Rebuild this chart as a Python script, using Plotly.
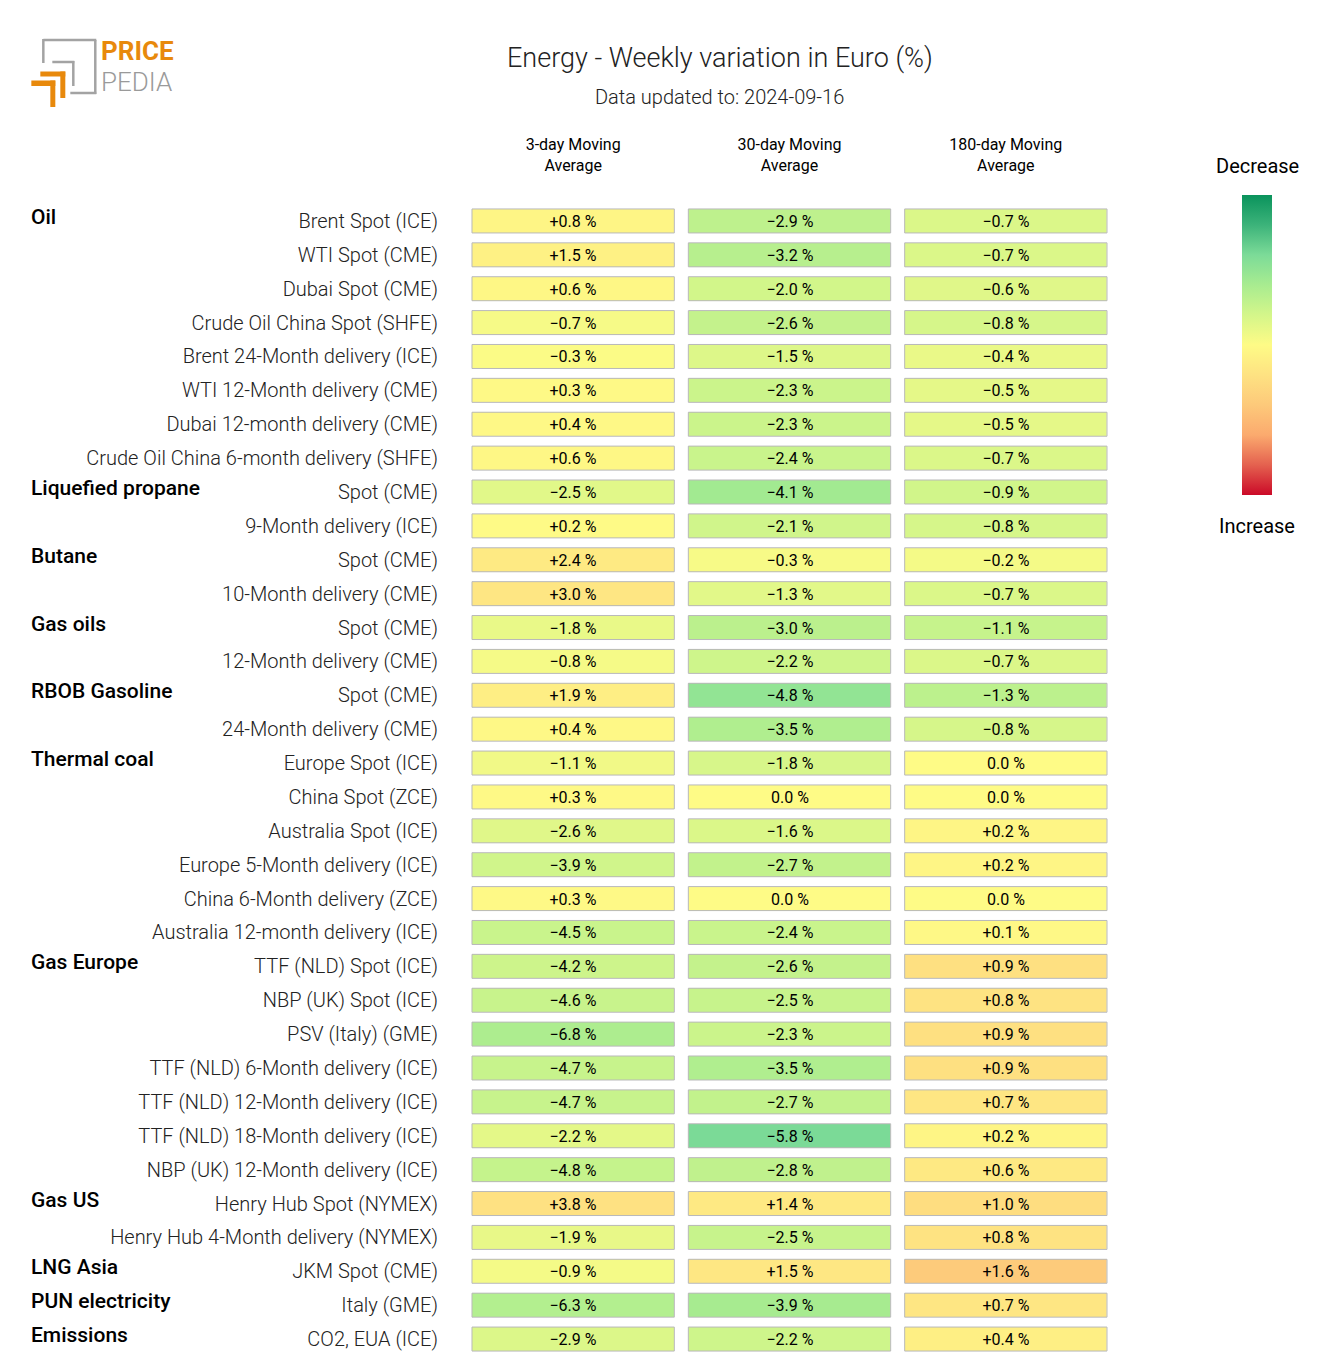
import plotly.graph_objects as go

# ---------------- data ----------------
groups = ["Oil", "Liquefied propane", "Butane", "Gas oils", "RBOB Gasoline",
          "Thermal coal", "Gas Europe", "Gas US", "LNG Asia", "PUN electricity", "Emissions"]
group_sizes = [8, 2, 2, 2, 2, 6, 7, 2, 1, 1, 1]

items = [
    "Brent Spot (ICE)", "WTI Spot (CME)", "Dubai Spot (CME)", "Crude Oil China Spot (SHFE)",
    "Brent 24-Month delivery (ICE)", "WTI 12-Month delivery (CME)", "Dubai 12-month delivery (CME)",
    "Crude Oil China 6-month delivery (SHFE)",
    "Spot (CME)", "9-Month delivery (ICE)",
    "Spot (CME)", "10-Month delivery (CME)",
    "Spot (CME)", "12-Month delivery (CME)",
    "Spot (CME)", "24-Month delivery (CME)",
    "Europe Spot (ICE)", "China Spot (ZCE)", "Australia Spot (ICE)", "Europe 5-Month delivery (ICE)",
    "China 6-Month delivery (ZCE)", "Australia 12-month delivery (ICE)",
    "TTF (NLD) Spot (ICE)", "NBP (UK) Spot (ICE)", "PSV (Italy) (GME)", "TTF (NLD) 6-Month delivery (ICE)",
    "TTF (NLD) 12-Month delivery (ICE)", "TTF (NLD) 18-Month delivery (ICE)", "NBP (UK) 12-Month delivery (ICE)",
    "Henry Hub Spot (NYMEX)", "Henry Hub 4-Month delivery (NYMEX)",
    "JKM Spot (CME)",
    "Italy (GME)",
    "CO2, EUA (ICE)",
]

ma3 = [0.8, 1.5, 0.6, -0.7, -0.3, 0.3, 0.4, 0.6,
       -2.5, 0.2,
       2.4, 3.0,
       -1.8, -0.8,
       1.9, 0.4,
       -1.1, 0.3, -2.6, -3.9, 0.3, -4.5,
       -4.2, -4.6, -6.8, -4.7, -4.7, -2.2, -4.8,
       3.8, -1.9,
       -0.9,
       -6.3,
       -2.9]
ma30 = [-2.9, -3.2, -2.0, -2.6, -1.5, -2.3, -2.3, -2.4,
        -4.1, -2.1,
        -0.3, -1.3,
        -3.0, -2.2,
        -4.8, -3.5,
        -1.8, 0.0, -1.6, -2.7, 0.0, -2.4,
        -2.6, -2.5, -2.3, -3.5, -2.7, -5.8, -2.8,
        1.4, -2.5,
        1.5,
        -3.9,
        -2.2]
ma180 = [-0.7, -0.7, -0.6, -0.8, -0.4, -0.5, -0.5, -0.7,
         -0.9, -0.8,
         -0.2, -0.7,
         -1.1, -0.7,
         -1.3, -0.8,
         0.0, 0.0, 0.2, 0.2, 0.0, 0.1,
         0.9, 0.8, 0.9, 0.9, 0.7, 0.2, 0.6,
         1.0, 0.8,
         1.6,
         0.7,
         0.4]

columns = ["3-day Moving<br>Average", "30-day Moving<br>Average", "180-day Moving<br>Average"]
col_ranges = [18.0, 9.6, 4.2]   # colour-scale half range per column

title = "Energy - Weekly variation in Euro (%)"
subtitle = "Data updated to: 2024-09-16"

# ---------------- styling ----------------
W, H = 1320, 1357
OFF = 8  # page body margin
ML = 465 - OFF
MT = 204 - OFF
PW = 649.5
PH = 1152
MR = W - ML - PW
MB = H - MT - PH

def px(x):
    return (x - OFF - ML) / PW

def py(y):
    return (MT + PH - (y - OFF)) / PH

colorscale = [
    [0.0, "#0a935c"], [0.1, "#3cb37a"], [0.2, "#7cdb98"], [0.3, "#a8ec90"],
    [0.4, "#d4f68a"], [0.5, "#fefb86"], [0.6, "#fee282"], [0.7, "#fdc97a"],
    [0.8, "#fbaa6e"], [0.9, "#e4614f"], [1.0, "#cb0a28"],
]
rev_scale = [[1 - p, c] for p, c in reversed(colorscale)]

FONT = "Roboto"

def fmt(v):
    if abs(v) < 1e-9:
        return "0.0 %"
    s = f"{v:+.1f} %"
    return s.replace("-", "\u2212")

n = len(items)
rows = list(range(n))

fig = go.Figure()
for ci, vals in enumerate([ma3, ma30, ma180]):
    R = col_ranges[ci]
    fig.add_trace(go.Heatmap(
        z=[[v] for v in vals],
        x0=ci, dx=1,
        y=rows,
        text=[[fmt(v)] for v in vals],
        texttemplate="%{text}",
        textfont=dict(family=FONT, size=16, color="black"),
        colorscale=colorscale, zmin=-R, zmax=R,
        showscale=False, xgap=14, ygap=10,
        hoverinfo="skip",
    ))

# colour bar legend (Decrease on top, Increase on bottom)
fig.add_trace(go.Scatter(
    x=[None], y=[None], mode="markers", showlegend=False, hoverinfo="skip",
    marker=dict(color=[0], cmin=-1, cmax=1, colorscale=rev_scale, showscale=True,
                colorbar=dict(thickness=30, len=300, lenmode="pixels",
                              x=px(1258), xanchor="center", xref="paper",
                              y=py(344.5), yanchor="middle", yref="paper",
                              xpad=0, ypad=0,
                              showticklabels=False, ticks="", outlinewidth=0)),
))

# cell borders
hw = (202.5 / (PW / 3)) / 2
hh = (24 / (PH / n)) / 2
shapes = []
for ci in range(3):
    for r in rows:
        shapes.append(dict(type="rect", xref="x", yref="y",
                           x0=ci - hw, x1=ci + hw, y0=r - hh, y1=r + hh,
                           line=dict(color="#b9b9b9", width=1), layer="above"))

# logo
gray = "#a3a3a3"
orange = "#e8890c"
def pline(x0, y0, x1, y1, color, w):
    return dict(type="line", xref="paper", yref="paper", x0=px(x0), y0=py(y0),
                x1=px(x1), y1=py(y1), line=dict(color=color, width=w))
def prect(x0, y0, x1, y1, color):
    return dict(type="rect", xref="paper", yref="paper", x0=px(x0), y0=py(y0),
                x1=px(x1), y1=py(y1), fillcolor=color, line=dict(width=0))
shapes += [
    pline(43, 40, 96, 40, gray, 2.5),
    pline(95, 40, 95, 94, gray, 2.5),
    pline(70, 93, 96, 93, gray, 2.5),
    pline(43, 39, 43, 63, gray, 2.5),
    pline(52, 62, 74, 62, gray, 2.5),
    pline(73, 61, 73, 86, gray, 2.5),
    prect(40, 71.5, 65, 76.5, orange),
    prect(60, 71.5, 65, 98, orange),
    prect(31, 80.5, 55, 86, orange),
    prect(50, 80.5, 55, 107, orange),
]

annotations = [
    dict(text="PRICE", x=px(100), y=py(67), xref="paper", yref="paper", xanchor="left",
         yanchor="bottom", showarrow=False, borderpad=0,
         font=dict(family=FONT, size=26, color=orange, weight="bold")),
    dict(text="PEDIA", x=px(100), y=py(66), xref="paper", yref="paper", xanchor="left",
         yanchor="top", showarrow=False, borderpad=0,
         font=dict(family=FONT, size=26, color="#9a9a9a", weight=300)),
    dict(text=title, x=px(720), y=py(58), xref="paper", yref="paper", xanchor="center",
         yanchor="middle", showarrow=False, font=dict(family=FONT, size=27, color="#222", weight=300)),
    dict(text=subtitle, x=px(720), y=py(97), xref="paper", yref="paper", xanchor="center",
         yanchor="middle", showarrow=False, font=dict(family=FONT, size=20, color="#222", weight=300)),
    dict(text="Decrease", x=px(1258), y=py(166), xref="paper", yref="paper", xanchor="center",
         yanchor="middle", showarrow=False, font=dict(family=FONT, size=20, color="black")),
    dict(text="Increase", x=px(1258), y=py(526), xref="paper", yref="paper", xanchor="center",
         yanchor="middle", showarrow=False, font=dict(family=FONT, size=20, color="black")),
]

start = 0
for g, s in zip(groups, group_sizes):
    annotations.append(dict(text=g, x=px(29), y=start, xref="paper", yref="y",
                            xanchor="left", yanchor="middle", yshift=4, showarrow=False,
                            font=dict(family=FONT, size=21, color="black", weight=500)))
    start += s

fig.update_layout(
    width=W, height=H,
    margin=dict(l=ML, r=MR, t=MT, b=MB, autoexpand=False),
    paper_bgcolor="white", plot_bgcolor="white",
    shapes=shapes, annotations=annotations,
    xaxis=dict(range=[-0.5, 2.5], side="top", tickvals=[0, 1, 2], ticktext=columns,
               showgrid=False, zeroline=False, showline=False, ticks="",
               tickfont=dict(family=FONT, size=16, color="black"), ticklabelstandoff=29,
               fixedrange=True),
    yaxis=dict(range=[n - 0.5, -0.5], tickvals=rows, ticktext=items,
               showgrid=False, zeroline=False, showline=False, ticks="",
               tickfont=dict(family=FONT, size=20, color="#222", weight=300),
               ticklabelstandoff=26, fixedrange=True),
    font=dict(family=FONT),
)

fig.write_html("out.html")
